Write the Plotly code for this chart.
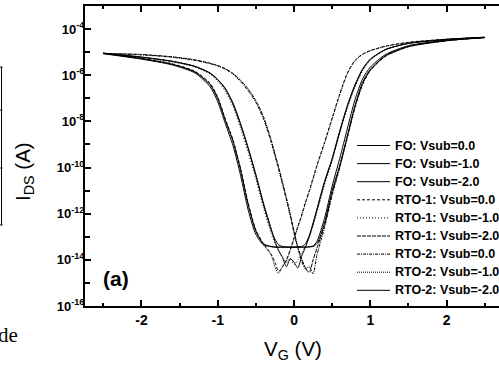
import plotly.graph_objects as go

# Gate voltage grid (V)
VG = [-2.5, -2.0, -1.6, -1.3, -1.1, -1.0, -0.9, -0.8, -0.7, -0.6, -0.5, -0.4, -0.3, -0.25, -0.2,
      -0.15, -0.1, -0.05, 0.0, 0.05, 0.1, 0.15, 0.2, 0.25, 0.3, 0.4, 0.5, 0.6, 0.7, 0.8, 0.9,
      1.0, 1.2, 1.5, 2.0, 2.5]

# log10(I_DS / A)
FO_0 = [-5.05, -5.28, -5.52, -5.85, -6.4, -7.0, -7.95, -8.85, -10.1, -11.6, -12.75, -13.3, -13.42, -13.44,
        -13.45, -13.45, -13.45, -13.45, -13.45, -13.45, -13.45, -13.45, -13.44, -13.42, -13.3, -12.4, -11.0,
        -9.9, -8.6, -7.3, -6.3, -5.75, -5.15, -4.75, -4.5, -4.37]
FO_1 = [-5.07, -5.3, -5.55, -5.9, -6.5, -7.15, -8.1, -9.05, -10.35, -11.85, -12.9, -13.35, -13.43, -13.45,
        -13.45, -13.45, -13.45, -13.45, -13.45, -13.45, -13.45, -13.45, -13.43, -13.4, -13.2, -12.2, -10.8,
        -9.6, -8.3, -7.05, -6.15, -5.65, -5.1, -4.72, -4.48, -4.36]
FO_2 = [-5.05, -5.22, -5.4, -5.62, -5.92, -6.2, -6.6, -7.25, -8.15, -9.2, -10.35, -11.6, -12.7, -13.1,
        -13.35, -13.42, -13.45, -13.45, -13.45, -13.44, -13.42, -13.3, -12.95, -12.4, -11.8, -10.6, -9.6,
        -8.4, -7.3, -6.4, -5.72, -5.3, -4.88, -4.62, -4.45, -4.36]
RTO1_0 = [-5.04, -5.27, -5.5, -5.83, -6.35, -6.95, -7.9, -8.8, -10.05, -11.55, -12.7, -13.3, -13.75, -14.1,
          -14.5, -14.3, -14.0, -13.55, -13.05, -12.55, -12.05, -11.5, -11.0, -10.45, -9.9, -8.9, -7.85,
          -6.8, -5.9, -5.35, -5.08, -4.93, -4.74, -4.57, -4.44, -4.35]
RTO1_1 = [-5.06, -5.23, -5.42, -5.65, -5.95, -6.25, -6.7, -7.35, -8.3, -9.35, -10.5, -11.75, -12.85, -13.3,
          -13.65, -13.9, -14.1, -13.95, -14.2, -14.0, -13.7, -13.4, -13.0, -12.5, -11.95, -10.75, -9.7,
          -8.5, -7.4, -6.5, -5.8, -5.35, -4.9, -4.63, -4.46, -4.36]
RTO1_2 = [-5.05, -5.1, -5.2, -5.33, -5.48, -5.58, -5.72, -5.92, -6.22, -6.6, -7.1, -7.8, -8.8, -9.4,
          -10.0, -10.65, -11.3, -12.0, -12.75, -13.45, -13.95, -14.35, -14.55, -14.0, -13.5, -12.5, -11.1,
          -9.95, -8.65, -7.35, -6.35, -5.78, -5.17, -4.76, -4.5, -4.37]
RTO2_0 = [-5.06, -5.12, -5.22, -5.36, -5.5, -5.6, -5.74, -5.95, -6.28, -6.68, -7.18, -7.9, -8.9, -9.5,
          -10.1, -10.75, -11.4, -12.1, -12.85, -13.5, -14.05, -14.4, -14.3, -14.6, -13.8, -12.6, -11.2,
          -10.0, -8.7, -7.4, -6.4, -5.8, -5.18, -4.77, -4.51, -4.37]
RTO2_1 = [-5.05, -5.29, -5.53, -5.86, -6.42, -7.02, -7.97, -8.87, -10.12, -11.62, -12.78, -13.35, -13.8, -14.3,
          -14.6, -14.25, -14.05, -13.6, -13.1, -12.6, -12.1, -11.55, -11.05, -10.5, -9.95, -8.95, -7.9,
          -6.85, -5.93, -5.37, -5.1, -4.94, -4.75, -4.58, -4.44, -4.35]
RTO2_2 = [-5.05, -5.21, -5.39, -5.61, -5.9, -6.18, -6.57, -7.2, -8.1, -9.15, -10.3, -11.55, -12.65, -13.2,
          -13.6, -13.9, -14.3, -13.95, -14.1, -14.35, -13.85, -13.45, -13.0, -12.45, -11.85, -10.65, -9.65,
          -8.45, -7.35, -6.45, -5.75, -5.32, -4.89, -4.62, -4.45, -4.36]

SERIES = [FO_0, FO_1, FO_2, RTO1_0, RTO1_1, RTO1_2, RTO2_0, RTO2_1, RTO2_2]
NAMES = ["FO: Vsub=0.0", "FO: Vsub=-1.0", "FO: Vsub=-2.0",
         "RTO-1: Vsub=0.0", "RTO-1: Vsub=-1.0", "RTO-1: Vsub=-2.0",
         "RTO-2: Vsub=0.0", "RTO-2: Vsub=-1.0", "RTO-2: Vsub=-2.0"]
DASHES = ["solid", "solid", "solid", "3px,2px", "1px,2px", "4px,1px",
          "3px,1px,1px,1px", "1px,1px", "solid"]

X_TICKS = [-2, -1, 0, 1, 2]
X_MINOR = [-2.5, -1.5, -0.5, 0.5, 1.5, 2.5]
Y_EXP = [-16, -14, -12, -10, -8, -6, -4]
Y_MINOR_EXP = [-15, -13, -11, -9, -7, -5]

FONT = "Liberation Sans, Arial, sans-serif"
W, H = 499, 371
ML, MR, MT, MB = 85, 0, 6, 65
PW, PH = W - ML - MR, H - MT - MB


def px(x):
    return (x - ML) / PW


def py(y):
    return (H - MB - y) / PH


fig = go.Figure()
for vals, name, dash in zip(SERIES, NAMES, DASHES):
    fig.add_trace(go.Scatter(
        x=VG, y=[10 ** v for v in vals], name=name, mode="lines",
        line=dict(color="black", width=1, dash=dash, shape="spline", smoothing=0.7),
        showlegend=False))

shapes = []
annotations = []
# manual legend
for i, (name, dash) in enumerate(zip(NAMES, DASHES)):
    yy = 145.5 + 18.1 * i
    shapes.append(dict(type="line", xref="paper", yref="paper", x0=px(357), x1=px(390),
                       y0=py(yy), y1=py(yy), line=dict(color="black", width=1, dash=dash)))
    annotations.append(dict(text="<b>%s</b>" % name, xref="paper", yref="paper", x=px(393), y=py(yy),
                            xanchor="left", yanchor="middle", showarrow=False,
                            font=dict(family=FONT, size=12.5, color="black")))

# panel label
annotations.append(dict(text="<b>(a)</b>", xref="paper", yref="paper", x=px(116), y=py(278),
                        xanchor="center", yanchor="middle", showarrow=False,
                        font=dict(family=FONT, size=21, color="black")))
# axis titles
annotations.append(dict(text="I<sub>DS</sub> (A)", xref="paper", yref="paper", x=px(24), y=py(172),
                        xanchor="center", yanchor="middle", showarrow=False, textangle=-90,
                        font=dict(family=FONT, size=20.5, color="black")))
annotations.append(dict(text="V<sub>G</sub> (V)", xref="paper", yref="paper", x=px(293), y=py(350),
                        xanchor="center", yanchor="middle", showarrow=False,
                        font=dict(family=FONT, size=20.5, color="black")))
# fragment of neighbouring text
annotations.append(dict(text="de", xref="paper", yref="paper", x=px(20), y=py(335),
                        xanchor="right", yanchor="middle", showarrow=False,
                        font=dict(family="Liberation Serif, Times New Roman, serif", size=21, color="black")))

# fragment of neighbouring frame at the left edge
shapes.append(dict(type="line", xref="paper", yref="paper", x0=px(1.5), x1=px(1.5), y0=py(67), y1=py(225),
                   line=dict(color="black", width=1)))
for yy in (67, 110, 168, 225):
    shapes.append(dict(type="line", xref="paper", yref="paper", x0=px(0), x1=px(2.5), y0=py(yy), y1=py(yy),
                       line=dict(color="black", width=1)))

fig.update_layout(
    template="none",
    width=W, height=H, margin=dict(l=ML, r=MR, t=MT, b=MB, autoexpand=False),
    paper_bgcolor="white", plot_bgcolor="white", font=dict(family=FONT, color="black"),
    shapes=shapes, annotations=annotations, showlegend=False,
    xaxis=dict(range=[-2.74, 2.687], showline=True, linewidth=2, linecolor="black", mirror="allticks",
               ticks="inside", ticklen=6, tickwidth=1.5, tickcolor="black", automargin=False,
               tickvals=X_TICKS, ticktext=["<b>%d</b>" % t for t in X_TICKS],
               tickfont=dict(family=FONT, size=14, color="black"),
               minor=dict(tickvals=X_MINOR, ticks="inside", ticklen=3, tickwidth=1.5, tickcolor="black"),
               showgrid=False, zeroline=False),
    yaxis=dict(type="log", range=[-16, -3], showline=True, linewidth=2, linecolor="black", mirror=False,
               ticks="inside", ticklen=6, tickwidth=1.5, tickcolor="black", automargin=False,
               ticklabelstandoff=-4,
               tickvals=[10.0 ** e for e in Y_EXP],
               ticktext=["<b>10<sup>%d</sup></b>" % e for e in Y_EXP],
               tickfont=dict(family=FONT, size=13, color="black"),
               minor=dict(tickvals=[10.0 ** e for e in Y_MINOR_EXP], ticks="inside", ticklen=5,
                          tickwidth=1.5, tickcolor="black"),
               showgrid=False, zeroline=False),
)

fig.write_html("out.html", config={"displayModeBar": False},
               post_script="document.body.style.margin='0px';")
